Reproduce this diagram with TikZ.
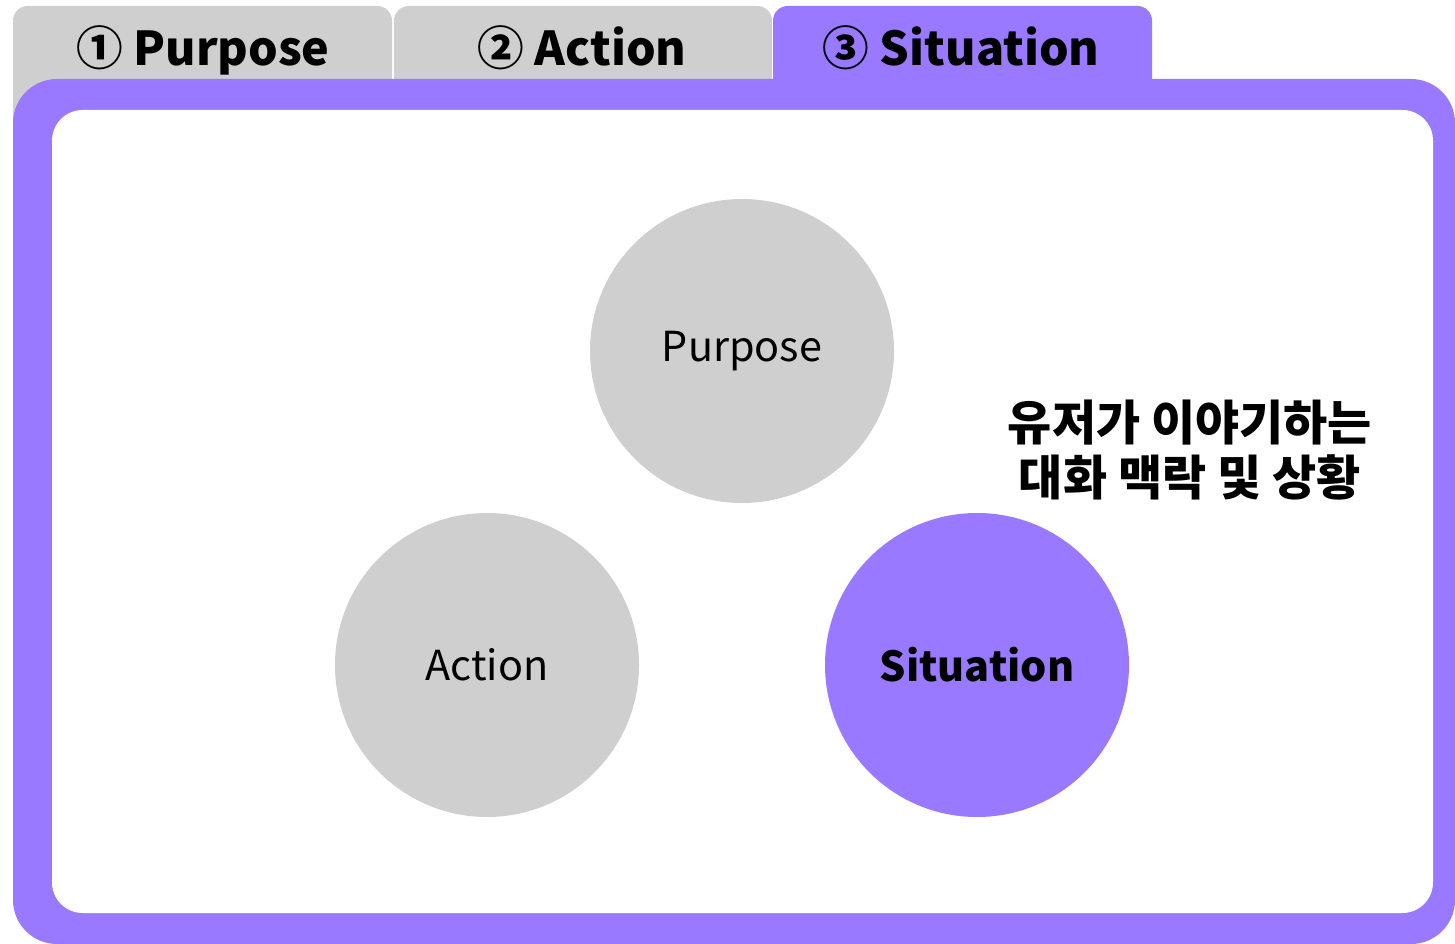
\documentclass[tikz,border=0pt]{standalone}
\usepackage{fontspec}
\setmainfont{Noto Sans CJK KR}
\usepackage{xcolor}
\usetikzlibrary{positioning}
\definecolor{lavender}{HTML}{9879FF}
\definecolor{silver}{HTML}{D0CFD0}
\definecolor{ink}{HTML}{000000}
\tikzset{
    every picture/.style={line cap=round,line join=round},
    tabshape/.style={rounded corners=11pt},
    tablabel/.style={anchor=base,text=ink,inner sep=0pt,
      font=\fontsize{35}{40}\selectfont\bfseries},
    bubble/.style={circle,fill=silver,minimum size=228pt,inner sep=0pt,
      text=ink,font=\fontsize{31}{36}\selectfont},
    chosen/.style={fill=lavender,font=\fontsize{31}{36}\selectfont\bfseries},
    note/.style={align=center,text=ink,inner sep=0pt,
      font=\fontsize{36}{41}\selectfont\bfseries}
}

\begin{document}
\begin{tikzpicture}[x=0.75pt,y=-0.75pt]
  \useasboundingbox (0,0) rectangle (1455,944);

  % tabs
  \fill[silver,tabshape] (13,6) rectangle (392,200);
  \fill[silver,tabshape] (394,6) rectangle (772,200);
  \fill[lavender,tabshape] (773,6) rectangle (1152,200);
  \node[tablabel] (tabA) at (203,66) {① Purpose};
  \node[tablabel] (tabB) at (582,66) {② Action};
  \node[tablabel] (tabC) at (961,66) {③ Situation};

  % frame
  \fill[lavender,rounded corners=33pt] (13,79) rectangle (1455,944);
  \fill[white,rounded corners=23pt] (52,110) rectangle (1433,913);

  % circles
  \node[bubble] (purpose) at (742,351) {\raisebox{-3pt}{Purpose}};
  \node[bubble] (action) at (487,665) {Action};
  \node[bubble,chosen] (situation) at (977,665) {Situation};

  \node[note] (context) at (1190,450) {유저가 이야기하는\\대화 맥락 및 상황};
\end{tikzpicture}
\end{document}
